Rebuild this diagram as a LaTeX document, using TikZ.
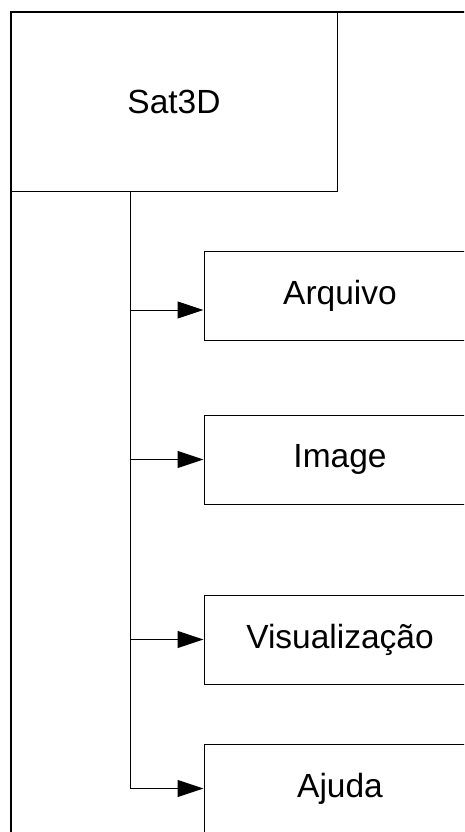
\documentclass[tikz,border=0pt]{standalone}
\usepackage{fontspec}
\setmainfont{Liberation Sans}
\usetikzlibrary{arrows.meta}
\begin{document}
\begin{tikzpicture}[x=1pt,y=-1pt,
  box/.style={draw,line width=1pt,inner sep=0pt,minimum width=272pt,minimum height=89pt,
    font=\fontsize{33.5}{40}\selectfont},
  arr/.style={line width=1pt,-{Triangle[length=26pt,width=17pt]}},
  trunk/.style={line width=1pt}]
\path[use as bounding box] (0,0) rectangle (464,832);
\clip (0,0) rectangle (464,832);
\node[draw,line width=1pt,inner sep=0pt,minimum width=326pt,minimum height=179pt,
  font=\fontsize{33.5}{40}\selectfont] (sat) at (174,101.5) {Sat3D};
\node[box] (arq) at (340,295.5) {Arquivo};
\node[box] (img) at (340,459.5) {Image};
\node[box] (vis) at (340,639.5) {Visualização};
\node[box] (aju) at (340,788.5) {Ajuda};
\coordinate (top) at (130,191);
\coordinate (j1) at (130,310);
\coordinate (j2) at (130,459.5);
\coordinate (j3) at (130,639.5);
\coordinate (j4) at (130,788.5);
\draw[trunk] (top) -- (j4);
\draw[arr] (j1) -- (j1 -| arq.west);
\draw[arr] (j2) -- (img.west);
\draw[arr] (j3) -- (vis.west);
\draw[arr] (j4) -- (aju.west);
\draw[line width=2pt] (11,12) rectangle (490,860);
\end{tikzpicture}
\end{document}
